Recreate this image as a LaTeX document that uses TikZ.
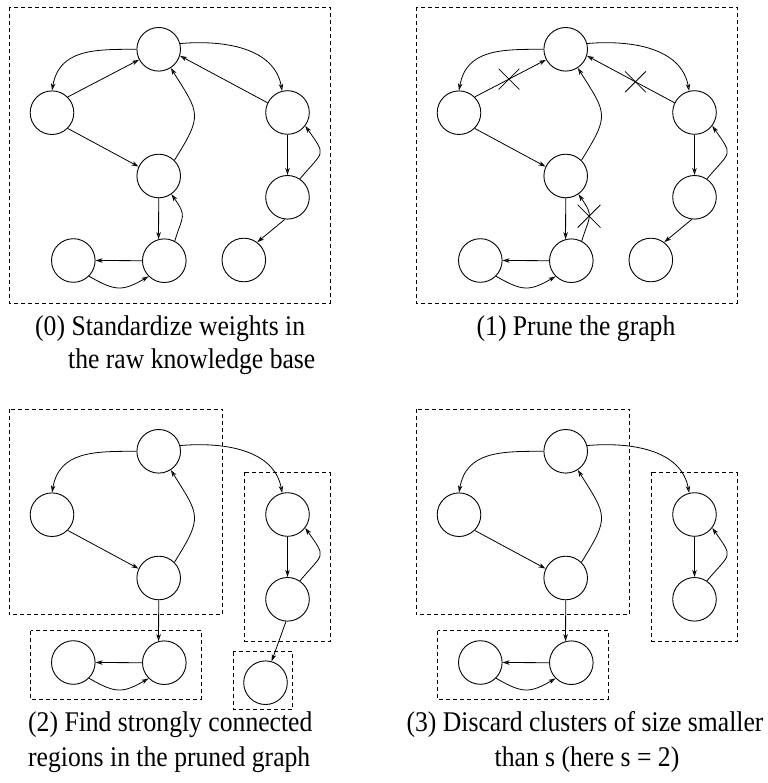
\documentclass[tikz,border=0pt]{standalone}
\usepackage{fontspec}
\setmainfont[FakeStretch=0.9]{Liberation Serif}
\usetikzlibrary{arrows.meta,shapes.misc}

\tikzset{
  kbnode/.style={circle, draw, line width=0.9pt, minimum size=43.6pt, inner sep=0pt},
  edgearrow/.style={line width=0.8pt, -{Stealth[open,length=7pt,width=4.5pt,inset=2pt]}},
  clusterbox/.style={draw, line width=0.8pt, dash pattern=on 4pt off 3pt},
  cutmark/.style={cross out, draw, line width=0.8pt, minimum size=20pt, inner sep=0pt},
  captiontext/.style={inner sep=0pt, font=\fontsize{28.5}{30}\selectfont},
}

% nodes and edges shared by all four stages
\newcommand\kbcore{%
  \node[kbnode] (A) at (158.7,-49.3) {};
  \node[kbnode] (B) at (52,-112.7) {};
  \node[kbnode] (C) at (158.7,-176) {};
  \node[kbnode] (D) at (164.3,-260.7) {};
  \node[kbnode] (E) at (73.3,-260.5) {};
  \node[kbnode] (F) at (287.5,-112.5) {};
  \node[kbnode] (G) at (287.5,-197.3) {};
  \draw[edgearrow] (A.180) to[out=180,in=80,looseness=1.15] (B.90);
  \draw[edgearrow] (B.-45) -- (C.155);
  \draw[edgearrow] (C.45) to[out=58,in=-58,looseness=1.5] (A.-57);
  \draw[edgearrow] (A.15) to[out=5,in=100] (F.104);
  \draw[edgearrow] (F.south) -- (G.north);
  \draw[edgearrow] (G.56) to[out=50,in=-55,looseness=1.8] (F.-37);
  \draw[edgearrow] (C.south) -- (D.105);
  \draw[edgearrow] (D.180) -- (E.0);
  \draw[edgearrow] (E.-45) to[out=-30,in=210,looseness=1.3] (D.-135);
}

% edges of the raw graph that pruning removes, plus the isolated node
\newcommand\kbextra{%
  \node[kbnode] (H) at (243.8,-260) {};
  \draw[edgearrow] (B.45) -- (A.208);
  \draw[edgearrow] (F.154) -- (A.-17);
  \draw[edgearrow] (D.62) to[out=73,in=-55,looseness=1.5] (C.-55);
  \draw[edgearrow] (G.-97) -- (H.53);
}

% dashed boxes around the strongly connected regions
\newcommand\kbclusters{%
  \draw[clusterbox] (9,-7) rectangle (222.5,-212.8);
  \draw[clusterbox] (244.2,-70.3) rectangle (330,-239);
  \draw[clusterbox] (30.7,-228.7) rectangle (201.7,-297);
}

\begin{document}
\begin{tikzpicture}[x=1pt,y=1pt]
  \useasboundingbox (0,0) rectangle (767,-783);

  % stage 0: raw knowledge base
  \begin{scope}[name prefix=s0-]
    \draw[clusterbox] (9,-7) rectangle (330,-303);
    \kbcore
    \kbextra
  \end{scope}

  % stage 1: pruned edges marked with crosses
  \begin{scope}[shift={(407,0)}, name prefix=s1-]
    \draw[clusterbox] (9,-7) rectangle (330,-303);
    \kbcore
    \kbextra
    \path (B.45) -- (A.208) node[cutmark, pos=0.48] (cutBA) {};
    \path (F.154) -- (A.-17) node[cutmark, pos=0.446] (cutFA) {};
    \path (D.62) to[out=73,in=-55,looseness=1.5] node[cutmark, minimum size=22pt, pos=0.5] (cutDC) {} (C.-55);
  \end{scope}

  % stage 2: strongly connected regions
  \begin{scope}[shift={(0,-402)}, name prefix=s2-]
    \kbclusters
    \draw[clusterbox] (233.3,-249.7) rectangle (292.7,-307);
    \kbcore
    \node[kbnode] (H) at (265.5,-280.7) {};
    \draw[edgearrow] (G.-94) -- (H.74);
  \end{scope}

  % stage 3: small clusters discarded
  \begin{scope}[shift={(407,-402)}, name prefix=s3-]
    \kbclusters
    \kbcore
  \end{scope}

  % captions
  \node[captiontext, anchor=base west] (cap0a) at (35,-335.7) {(0) Standardize weights in};
  \node[captiontext, anchor=base west] (cap0b) at (68,-368) {the raw knowledge base};
  \node[captiontext, anchor=base] (cap1) at (576,-335) {(1) Prune the graph};
  \node[captiontext, anchor=base west] (cap2a) at (28,-731) {(2) Find strongly connected};
  \node[captiontext, anchor=base west] (cap2b) at (28,-766) {regions in the pruned graph};
  \node[captiontext, anchor=base] (cap3a) at (585,-731) {(3) Discard clusters of size smaller};
  \node[captiontext, anchor=base] (cap3b) at (587,-766) {than s (here s = 2)};
\end{tikzpicture}
\end{document}
